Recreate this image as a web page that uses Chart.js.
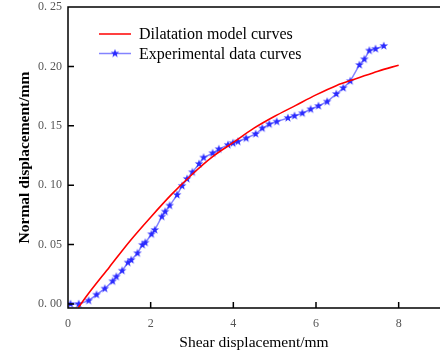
<!DOCTYPE html>
<html>
<head>
<meta charset="utf-8">
<script src="https://cdn.jsdelivr.net/npm/chart.js@4.4.1/dist/chart.umd.min.js"></script>
<style>
  html, body { margin: 0; padding: 0; background: #fff; }
</style>
</head>
<body>
<canvas id="chart" width="440" height="358"></canvas>
<script>
// model curve
const modelX = [0.25, 0.5, 1, 1.5, 2, 2.5, 3, 3.5, 4, 4.5, 5, 5.5, 6, 6.5, 7, 7.5, 8];
const modelY = [-0.003, 0.009, 0.031, 0.053, 0.073, 0.092, 0.109, 0.124, 0.136, 0.148, 0.158, 0.167, 0.176, 0.184, 0.190, 0.196, 0.201];

// experimental points
const expX = [0.06, 0.26, 0.50, 0.69, 0.89, 1.08, 1.17, 1.31, 1.45, 1.53, 1.68, 1.80, 1.87, 2.02, 2.10, 2.27, 2.35, 2.46,
              2.64, 2.76, 2.88, 3.01, 3.17, 3.28, 3.50, 3.65, 3.87, 3.99, 4.11, 4.31, 4.54, 4.70, 4.87, 5.05, 5.32, 5.48,
              5.67, 5.87, 6.06, 6.27, 6.49, 6.66, 6.83, 7.05, 7.17, 7.29, 7.44, 7.64];
const expY = [0, 0, 0.0028, 0.0078, 0.0129, 0.0191, 0.0230, 0.0280, 0.0348, 0.0370, 0.0427, 0.0497, 0.0516, 0.0587, 0.0623, 0.0735, 0.0777, 0.0828,
              0.0918, 0.0994, 0.1053, 0.1109, 0.1179, 0.1232, 0.1269, 0.1303, 0.1339, 0.1353, 0.1367, 0.1395, 0.1431, 0.1479, 0.1513, 0.1535, 0.1566, 0.1583,
              0.1606, 0.1639, 0.1667, 0.1703, 0.1768, 0.1818, 0.1876, 0.2012, 0.2060, 0.2133, 0.2147, 0.2172];

const xTicks = [0, 2, 4, 6, 8];
const yTicks = [0, 0.05, 0.10, 0.15, 0.20, 0.25];
const seriesNames = ["Dilatation model curves", "Experimental data curves"];

const RED = "#ff0000";
const BLUE_LINE = "rgba(90, 90, 255, 0.75)";
const BLUE_MARK = "#2a2aff";
const SERIF = "'Liberation Serif', 'Times New Roman', serif";

function makeStar(color) {
    const c = document.createElement("canvas");
    c.width = 10;
    c.height = 10;
    const g = c.getContext("2d");
    g.fillStyle = color;
    g.beginPath();
    for (let i = 0; i < 10; i++) {
        const r = i % 2 === 0 ? 4.5 : 1.8;
        const a = -Math.PI / 2 + i * Math.PI / 5;
        const px = 5 + r * Math.cos(a);
        const py = 5 + r * Math.sin(a);
        if (i === 0) g.moveTo(px, py); else g.lineTo(px, py);
    }
    g.closePath();
    g.fill();
    return c;
}

const star = makeStar(BLUE_MARK);

// box (right side falls off the picture), inward ticks and the legend
const framePlugin = {
    id: "frame",
    afterDraw(chart) {
        const { ctx, chartArea: a, scales } = chart;
        ctx.save();
        ctx.strokeStyle = "#000";
        ctx.lineWidth = 1.5;
        ctx.beginPath();
        ctx.moveTo(a.right, a.top);
        ctx.lineTo(a.left, a.top);
        ctx.lineTo(a.left, a.bottom);
        ctx.lineTo(a.right, a.bottom);
        xTicks.forEach(v => {
            const px = scales.x.getPixelForValue(v);
            ctx.moveTo(px, a.bottom);
            ctx.lineTo(px, a.bottom - 6);
        });
        yTicks.forEach(v => {
            const py = scales.y.getPixelForValue(v);
            ctx.moveTo(a.left, py);
            ctx.lineTo(a.left + 6, py);
        });
        ctx.stroke();

        // legend
        const lx = 99, ly = 34, step = 19.5;
        ctx.font = "16px " + SERIF;
        ctx.fillStyle = "#000";
        ctx.textBaseline = "middle";
        ctx.lineWidth = 1.5;

        ctx.strokeStyle = RED;
        ctx.beginPath();
        ctx.moveTo(lx, ly);
        ctx.lineTo(lx + 32, ly);
        ctx.stroke();
        ctx.fillText(seriesNames[0], 139, ly + 1);

        ctx.strokeStyle = BLUE_LINE;
        ctx.beginPath();
        ctx.moveTo(lx, ly + step);
        ctx.lineTo(lx + 32, ly + step);
        ctx.stroke();
        ctx.drawImage(star, lx + 16 - 5, ly + step - 5);
        ctx.fillText(seriesNames[1], 139, ly + step + 1);
        ctx.restore();
    }
};

const ctx = document.getElementById("chart").getContext("2d");

new Chart(ctx, {
    type: "line",
    data: {
        datasets: [
            {
                label: seriesNames[0],
                data: modelX.map((x, i) => ({ x: x, y: modelY[i] })),
                borderColor: RED,
                borderWidth: 1.6,
                pointRadius: 0,
                cubicInterpolationMode: "monotone",
                fill: false
            },
            {
                label: seriesNames[1],
                data: expX.map((x, i) => ({ x: x, y: expY[i] })),
                borderColor: BLUE_LINE,
                borderWidth: 1.5,
                pointStyle: star,
                pointRadius: 4,
                tension: 0,
                fill: false
            }
        ]
    },
    options: {
        responsive: false,
        animation: false,
        layout: { autoPadding: false, padding: { top: 7, right: 0, left: 0, bottom: 0 } },
        plugins: {
            legend: { display: false },
            tooltip: { enabled: false }
        },
        scales: {
            x: {
                type: "linear",
                min: 0,
                max: 9,
                afterBuildTicks: s => { s.ticks = xTicks.map(v => ({ value: v })); },
                afterFit: s => {
                    s.height = 50;
                    s.paddingLeft = 0;
                    s.paddingRight = 0;
                },
                grid: { display: false, drawTicks: false },
                border: { display: false },
                ticks: {
                    padding: 9,
                    color: "#555",
                    font: { family: SERIF, size: 12 },
                    callback: v => String(v)
                },
                title: {
                    display: true,
                    text: "Shear displacement/mm",
                    color: "#000",
                    font: { family: SERIF, size: 15.5 },
                    padding: { top: 0, bottom: 5.7 }
                }
            },
            y: {
                min: -0.0034,
                max: 0.25,
                afterBuildTicks: s => { s.ticks = yTicks.map(v => ({ value: v })); },
                afterFit: s => {
                    s.width = 68;
                    s.paddingTop = 0;
                    s.paddingBottom = 0;
                },
                grid: { display: false, drawTicks: false },
                border: { display: false },
                ticks: {
                    padding: 6,
                    color: "#555",
                    font: { family: SERIF, size: 12 },
                    callback: v => v.toFixed(2).replace(".", ". ")
                },
                title: {
                    display: true,
                    text: "Normal displacement/mm",
                    color: "#000",
                    font: { family: SERIF, size: 15.5, weight: "bold" },
                    padding: { top: 15.7, bottom: 0 }
                }
            }
        }
    },
    plugins: [framePlugin]
});
</script>
</body>
</html>
